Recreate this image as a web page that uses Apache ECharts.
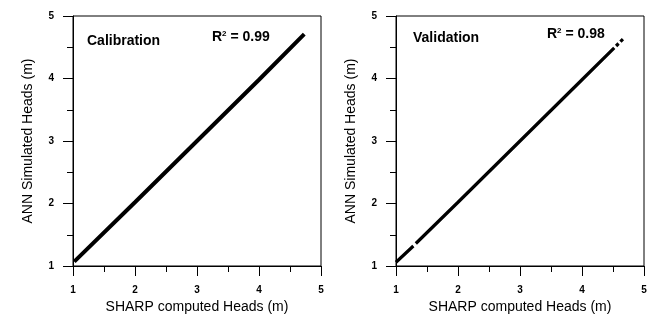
<!DOCTYPE html>
<html>
<head>
<meta charset="utf-8">
<script src="https://cdn.jsdelivr.net/npm/echarts@6/dist/echarts.min.js"></script>
<style>
  html, body { margin: 0; padding: 0; background: #fff; }
  #chart { width: 650px; height: 322px; }
</style>
</head>
<body>
<div id="chart"></div>
<script>
// values (SHARP computed vs ANN simulated heads, m)
var calibX = [1.02, 2.0, 3.0, 4.0, 4.73];
var calibY = [1.07, 2.02, 3.0, 3.98, 4.71];
// null marks a gap in the plotted trace
var validX = [1.0, 1.28, null, 1.32, 2.0, 3.0, 4.0, 4.52, null, 4.55, 4.59, null, 4.62, 4.66];
var validY = [1.06, 1.32, null, 1.36, 2.02, 3.0, 3.98, 4.49, null, 4.52, 4.56, null, 4.59, 4.63];
var panelNames = ['Calibration', 'Validation'];
var r2Values = ['0.99', '0.98'];
var axisTicks = [1, 2, 3, 4, 5];
var xName = 'SHARP computed Heads (m)';
var yName = 'ANN Simulated Heads (m)';

var FONT = 'Liberation Sans, Arial, sans-serif';

function pairs(xs, ys) {
  return xs.map(function (x, i) { return x === null ? [null, null] : [x, ys[i]]; });
}

function makeAxis(idx, isX) {
  return {
    type: 'value',
    gridIndex: idx,
    min: axisTicks[0],
    max: axisTicks[axisTicks.length - 1],
    interval: 1,
    name: isX ? xName : yName,
    nameLocation: 'middle',
    nameGap: isX ? 28 : 38,
    nameTextStyle: { fontFamily: FONT, fontSize: 14, color: '#000' },
    axisLine: { show: true, onZero: false, lineStyle: { color: '#000', width: 1 } },
    axisTick: { show: true, inside: false, length: 10, lineStyle: { color: '#000' } },
    minorTick: { show: true, splitNumber: 2, length: 6, lineStyle: { color: '#000' } },
    splitLine: { show: false },
    axisLabel: { fontFamily: FONT, fontSize: 10, fontWeight: 'bold', color: '#000', margin: isX ? 19 : 19 }
  };
}

var chart = echarts.init(document.getElementById('chart'), null, { renderer: 'canvas' });

var labelRich = {
  b: { fontFamily: FONT, fontSize: 14, fontWeight: 'bold', color: '#000' },
  sup: { fontFamily: FONT, fontSize: 8, fontWeight: 'bold', color: '#000', verticalAlign: 'top', padding: [0, 0, 6, 0] }
};

chart.setOption({
  animation: false,
  backgroundColor: '#fff',
  grid: [
    { left: 73, top: 16, width: 248, height: 250, show: true, borderColor: '#000', borderWidth: 1 },
    { left: 396, top: 16, width: 248, height: 250, show: true, borderColor: '#000', borderWidth: 1 }
  ],
  xAxis: [makeAxis(0, true), makeAxis(1, true)],
  yAxis: [makeAxis(0, false), makeAxis(1, false)],
  title: [
    { text: '{b|' + panelNames[0] + '}', left: 82, top: 29, textStyle: { rich: labelRich } },
    { text: '{b|R}{sup|2}{b| = ' + r2Values[0] + '}', left: 207, top: 25, textStyle: { rich: labelRich } },
    { text: '{b|' + panelNames[1] + '}', left: 408, top: 26, textStyle: { rich: labelRich } },
    { text: '{b|R}{sup|2}{b| = ' + r2Values[1] + '}', left: 542, top: 22, textStyle: { rich: labelRich } }
  ],
  series: [
    {
      type: 'line', xAxisIndex: 0, yAxisIndex: 0,
      data: pairs(calibX, calibY),
      showSymbol: false, lineStyle: { color: '#000', width: 4 }
    },
    {
      type: 'line', xAxisIndex: 1, yAxisIndex: 1,
      data: pairs(validX, validY), connectNulls: false,
      showSymbol: false, lineStyle: { color: '#000', width: 3.2 }
    }
  ]
});
</script>
</body>
</html>
